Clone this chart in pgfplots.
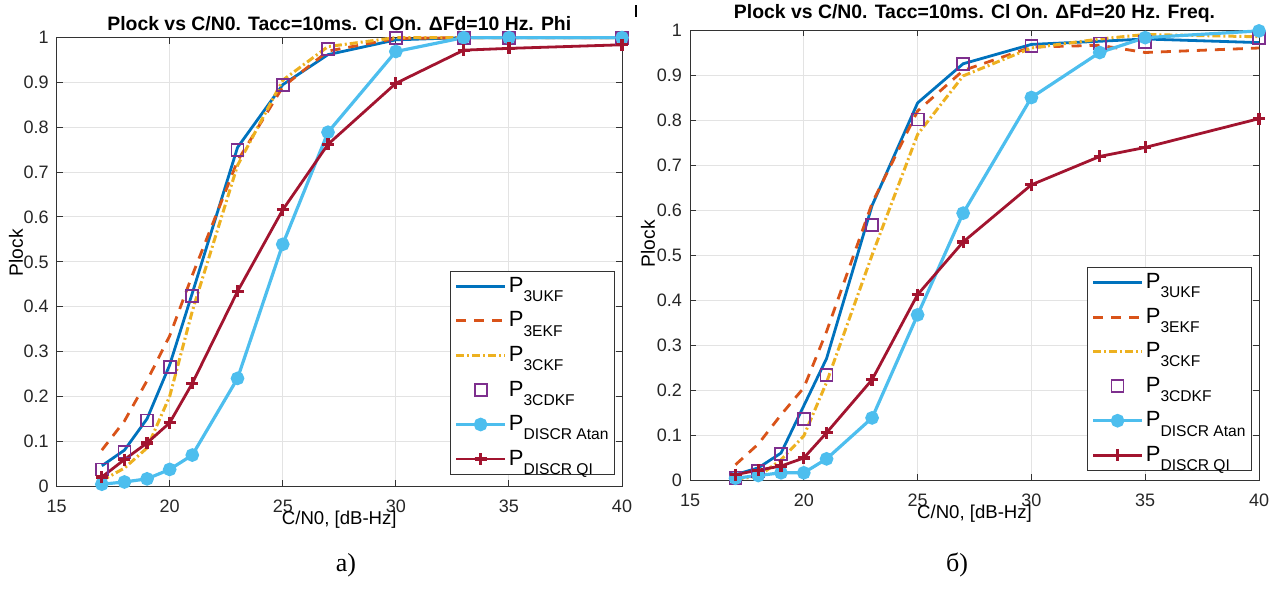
\documentclass[border=0pt]{standalone}
\usepackage{fontspec}
\setmainfont{Liberation Sans}
\newfontfamily\capfont{Liberation Serif}
\usepackage{pgfplots}
\pgfplotsset{compat=1.18}
\definecolor{cukf}{rgb}{0,0.447,0.741}
\definecolor{cekf}{rgb}{0.85,0.325,0.098}
\definecolor{cckf}{rgb}{0.929,0.694,0.125}
\definecolor{ccdkf}{rgb}{0.494,0.184,0.556}
\definecolor{catan}{rgb}{0.301,0.745,0.933}
\definecolor{cqi}{rgb}{0.635,0.078,0.184}
\newcommand{\Ps}[1]{P\raisebox{-0.42em}{\fontsize{7.8}{9}\selectfont #1}}

\pgfplotsset{
  plock/.style={
    scale only axis,
    xmin=15, xmax=40, ymin=0, ymax=1,
    xtick={15,20,25,30,35,40},
    ytick={0,0.1,0.2,0.3,0.4,0.5,0.6,0.7,0.8,0.9,1},
    yticklabels={0,0.1,0.2,0.3,0.4,0.5,0.6,0.7,0.8,0.9,1},
    grid=major,
    major grid style={gray!22, line width=0.5pt},
    axis line style={black!80, line width=0.5pt},
    tick style={black!80, line width=0.5pt},
    tick align=inside, tick pos=both,
    major tick length=3pt,
    ticklabel style={font=\fontsize{9}{10}\selectfont, text=black!85},
    xticklabel style={yshift=-3.3pt},
    yticklabel style={xshift=-0.5pt},
    /pgf/number format/assume math mode=true,
    title style={font=\bfseries\fontsize{9.7}{11}\selectfont, yshift=-6pt},
    xlabel style={font=\fontsize{9.3}{10}\selectfont, anchor=center},
    ylabel style={font=\fontsize{9.6}{11}\selectfont, anchor=center},
    xlabel={C/N0, [dB-Hz]}, ylabel={Plock},
    clip=false,
    legend style={draw=black!80, fill=white, line width=0.5pt,
      font=\fontsize{11}{12}\selectfont, inner sep=2pt, row sep=6pt,
      nodes={inner sep=1.1pt}, anchor=south east},
    legend cell align=left,
    legend image code/.code={\draw[mark repeat=2,mark phase=2,#1] plot coordinates {(0cm,0cm) (0.43cm,0cm) (0.86cm,0cm)};},
  },
  sukf/.style={color=cukf, line width=1.4pt, mark=none},
  sekf/.style={color=cekf, line width=1.4pt, mark=none, dash pattern=on 5pt off 4pt},
  sckf/.style={color=cckf, line width=1.5pt, mark=none, dash pattern=on 4pt off 1.5pt on 1pt off 1.5pt},
  scdkf/.style={color=ccdkf, only marks, mark=square, mark size=3pt, mark options={line width=0.9pt}},
  satan/.style={color=catan, line width=1.6pt, mark=*, mark size=2.6pt},
  sqi/.style={color=cqi, line width=1.4pt, mark=+, mark size=3pt, mark options={line width=1.6pt}},
}

\begin{document}
\begin{tikzpicture}
\path[use as bounding box] (0,0) rectangle (638.5pt,-295pt);
\draw[line width=0.8pt] (318pt,-2.5pt) -- (318pt,-8.5pt);

% left panel
\begin{axis}[plock,
  at={(28.3pt,-243pt)}, anchor=south west, width=282.7pt, height=224.2pt,
  title={Plock vs C/N0. Tacc=10ms. Cl On. ΔFd=10 Hz. Phi},
  xlabel style={at={(axis description cs:0.5,-0.075)}},
  ylabel style={at={(axis description cs:-0.072,0.52)}},
  legend style={at={(0.988,0.025)}},
]
\addplot[sukf] coordinates {(17,0.045)(18,0.08)(19,0.15)(20,0.27)(21,0.43)(23,0.755)(25,0.895)(27,0.962)(30,0.995)(33,1)(35,1)(40,1)};
\addlegendentry{\Ps{3UKF}}
\addplot[sekf] coordinates {(17,0.08)(18,0.145)(19,0.235)(20,0.335)(21,0.47)(23,0.725)(25,0.89)(27,0.97)(30,0.998)(33,1)(35,1)(40,1)};
\addlegendentry{\Ps{3EKF}}
\addplot[sckf] coordinates {(17,0.012)(18,0.04)(19,0.085)(20,0.2)(21,0.39)(23,0.715)(25,0.905)(27,0.98)(30,1)(33,1)(35,1)(40,1)};
\addlegendentry{\Ps{3CKF}}
\addplot[scdkf] coordinates {(17,0.037)(18,0.076)(19,0.146)(20,0.265)(21,0.424)(23,0.75)(25,0.895)(27,0.975)(30,1)(33,1)(35,1)(40,1)};
\addlegendentry{\Ps{3CDKF}}
\addplot[satan] coordinates {(17,0.004)(18,0.009)(19,0.016)(20,0.037)(21,0.069)(23,0.24)(25,0.539)(27,0.789)(30,0.969)(33,1)(35,1)(40,1)};
\addlegendentry{\Ps{DISCR Atan}}
\addplot[sqi] coordinates {(17,0.02)(18,0.059)(19,0.096)(20,0.141)(21,0.229)(23,0.434)(25,0.616)(27,0.762)(30,0.898)(33,0.972)(35,0.976)(40,0.984)};
\addlegendentry{\Ps{DISCR QI}}
\end{axis}

% right panel
\begin{axis}[plock,
  at={(345pt,-240pt)}, anchor=south west, width=284.5pt, height=225pt,
  title={Plock vs C/N0. Tacc=10ms. Cl On. ΔFd=20 Hz. Freq.},
  xlabel style={at={(axis description cs:0.5,-0.075)}},
  ylabel style={at={(axis description cs:-0.074,0.525)}},
  legend style={at={(0.988,0.02)}},
]
\addplot[sukf] coordinates {(17,0.012)(18,0.027)(19,0.06)(20,0.165)(21,0.27)(23,0.61)(25,0.838)(27,0.925)(30,0.968)(33,0.975)(35,0.98)(40,0.972)};
\addlegendentry{\Ps{3UKF}}
\addplot[sekf] coordinates {(17,0.034)(18,0.08)(19,0.145)(20,0.205)(21,0.33)(23,0.615)(25,0.82)(27,0.91)(30,0.962)(33,0.966)(35,0.95)(40,0.96)};
\addlegendentry{\Ps{3EKF}}
\addplot[sckf] coordinates {(17,0.002)(18,0.008)(19,0.045)(20,0.098)(21,0.217)(23,0.5)(25,0.768)(27,0.898)(30,0.96)(33,0.98)(35,0.99)(40,0.985)};
\addlegendentry{\Ps{3CKF}}
\addplot[scdkf] coordinates {(17,0.004)(18,0.02)(19,0.057)(20,0.135)(21,0.233)(23,0.567)(25,0.801)(27,0.924)(30,0.965)(33,0.97)(35,0.973)(40,0.983)};
\addlegendentry{\Ps{3CDKF}}
\addplot[satan] coordinates {(17,0.004)(18,0.01)(19,0.016)(20,0.016)(21,0.047)(23,0.138)(25,0.367)(27,0.593)(30,0.85)(33,0.95)(35,0.983)(40,0.998)};
\addlegendentry{\Ps{DISCR Atan}}
\addplot[sqi] coordinates {(17,0.012)(18,0.022)(19,0.031)(20,0.049)(21,0.105)(23,0.223)(25,0.412)(27,0.529)(30,0.656)(33,0.719)(35,0.739)(40,0.803)};
\addlegendentry{\Ps{DISCR QI}}
\end{axis}

\node[font=\capfont\fontsize{13}{14}\selectfont] at (173pt,-282.5pt) {а)};
\node[font=\capfont\fontsize{13}{14}\selectfont] at (478.5pt,-282.5pt) {б)};
\end{tikzpicture}
\end{document}
